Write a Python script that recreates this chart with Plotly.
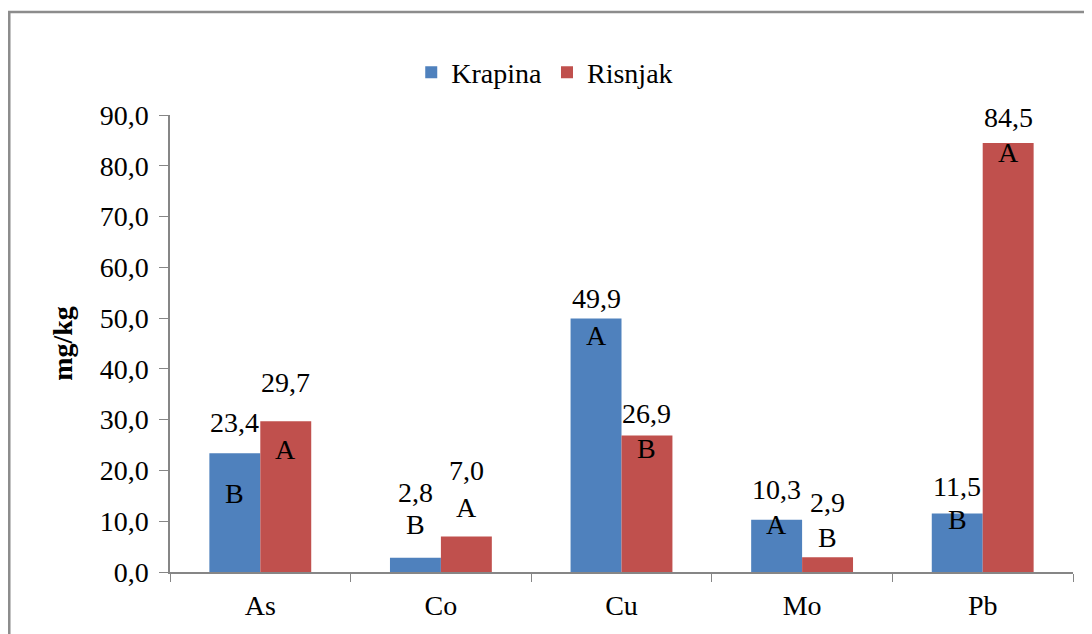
import plotly.graph_objects as go

# ---- data ----
elements = ["As", "Co", "Cu", "Mo", "Pb"]
krapina = [23.4, 2.8, 49.9, 10.3, 11.5]
risnjak = [29.7, 7.0, 26.9, 2.9, 84.5]
krapina_letters = ["B", "B", "A", "A", "B"]
risnjak_letters = ["A", "A", "B", "B", "A"]
y_ticks = [0, 10, 20, 30, 40, 50, 60, 70, 80, 90]

# ---- style ----
BLUE = "#4F81BD"
RED = "#C0504D"
FONT = "Liberation Serif, Times New Roman, serif"
FS = 28
BARGAP = 0.436
# pixel nudges for label placement (value label, letter label), relative to bar top
KR_NUDGE = [(31, -40), (65, 33), (20, -17), (30, -5), (27, -6)]
RI_NUDGE = [(39, -28), (66, 29), (22, -13), (55, 20), (25, -10)]


def fmt(v):
    return f"{v:.1f}".replace(".", ",")


fig = go.Figure()
fig.add_trace(go.Bar(name="Krapina", x=elements, y=krapina, marker_color=BLUE,
                     marker_line_width=0))
fig.add_trace(go.Bar(name="Risnjak", x=elements, y=risnjak, marker_color=RED,
                     marker_line_width=0))

half = (1 - BARGAP) / 4
annotations = []
for i, el in enumerate(elements):
    for vals, letters, nudge, dx in ((krapina, krapina_letters, KR_NUDGE, -half),
                                     (risnjak, risnjak_letters, RI_NUDGE, half)):
        v = vals[i]
        annotations.append(dict(x=i + dx, y=v, xref="x", yref="y", text=fmt(v),
                                showarrow=False, yanchor="middle", xanchor="center",
                                yshift=nudge[i][0], font=dict(family=FONT, size=FS, color="black")))
        annotations.append(dict(x=i + dx, y=v, xref="x", yref="y", text=letters[i],
                                showarrow=False, yanchor="middle", xanchor="center",
                                yshift=nudge[i][1], font=dict(family=FONT, size=FS, color="black")))

fig.update_layout(
    width=1092, height=634,
    margin=dict(l=162, r=27, t=107, b=70, autoexpand=False),
    paper_bgcolor="white", plot_bgcolor="white",
    barmode="group", bargap=BARGAP, bargroupgap=0,
    separators=",.",
    font=dict(family=FONT, size=FS, color="black"),
    showlegend=True,
    legend=dict(orientation="h", x=0.415, y=1.093, xanchor="center", yanchor="middle",
                font=dict(family=FONT, size=FS, color="black"), itemwidth=30,
                traceorder="normal", bgcolor="rgba(0,0,0,0)"),
    annotations=annotations,
    shapes=[dict(type="rect", xref="paper", yref="paper", x0=-0.178, x1=1.2,
                 y0=-0.3, y1=1.2254, line=dict(color="#8c8c8c", width=2.5),
                 fillcolor="rgba(0,0,0,0)", layer="below")],
)
fig.update_xaxes(type="category", showline=True, linecolor="#868686", linewidth=1.5,
                 ticks="outside", tickson="boundaries", ticklen=8, tickcolor="#868686",
                 showgrid=False, tickfont=dict(family=FONT, size=FS, color="black"),
                 ticklabelstandoff=8)
fig.update_yaxes(range=[0, 90], tickvals=y_ticks, tickformat=".1f", showline=True,
                 linecolor="#868686", linewidth=1.5, ticks="outside", ticklen=9,
                 tickcolor="#868686", showgrid=False, zeroline=False,
                 tickfont=dict(family=FONT, size=FS, color="black"),
                 ticklabelstandoff=5,
                 title=dict(text="<b>mg/kg</b>", font=dict(family=FONT, size=FS, color="black"),
                            standoff=19))

fig.write_html("out.html")
